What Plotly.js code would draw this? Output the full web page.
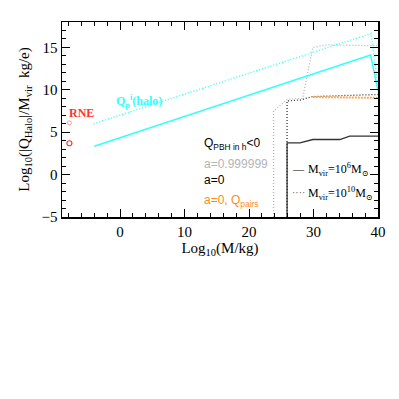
<!DOCTYPE html>
<html>
<head>
<meta charset="utf-8">
<script src="https://cdn.plot.ly/plotly-3.0.1.min.js"></script>
<style>
  html, body { margin: 0; padding: 0; background: white; }
  #chart { width: 399px; height: 399px; }
</style>
</head>
<body>
<div id="chart"></div>
<script>
// Q_p^i(halo), M_vir = 1e6 (solid) and 1e10 (dotted)
const cyanSolidX = [-4.0, 38.85, 40.0];
const cyanSolidY = [3.35, 14.1, 9.9];
const cyanDotX = [-4.1, 38.95, 40.0];
const cyanDotY = [6.0, 16.65, 10.2];

// a = 0.999999, M_vir = 1e10
const grayDotX = [23.8, 23.8, 26.0, 28.3, 29.9, 32.0, 40.0];
const grayDotY = [-5.0, 7.5, 8.9, 9.0, 15.0, 15.3, 15.2];

// a = 0, M_vir = 1e10
const blackDotX = [25.9, 25.9, 27.9, 29.9, 35.6, 40.0];
const blackDotY = [-5.0, 8.7, 8.8, 9.2, 9.35, 9.45];

// a = 0, Q_pairs, M_vir = 1e10
const orangeDotX = [29.9, 40.0];
const orangeDotY = [9.15, 9.05];

// a = 0, M_vir = 1e6
const blackSolidX = [25.9, 25.9, 27.9, 29.9, 34.1, 35.6, 40.0];
const blackSolidY = [-5.0, 3.74, 3.74, 4.14, 4.14, 4.53, 4.53];

// RNE points
const rneX = [-7.85];
const rneY = [3.7];
const rneDotY = [6.1];

const serif = 'Liberation Serif, DejaVu Serif, serif';
const sans = 'Liberation Sans, Arial, sans-serif';
const dots = '1px,2px';

function line(x, y, color, dash, width) {
  return {
    x: x, y: y, type: 'scatter', mode: 'lines',
    line: { color: color, dash: dash, width: width },
    showlegend: false, hoverinfo: 'skip'
  };
}

const traces = [
  line(cyanSolidX, cyanSolidY, '#33ffff', 'solid', 1.5),
  line(cyanDotX, cyanDotY, '#33ffff', dots, 1.5),
  line(grayDotX, grayDotY, '#b4b4b4', dots, 1.3),
  line(blackDotX, blackDotY, '#333333', dots, 1.3),
  line(orangeDotX, orangeDotY, '#ffaa55', '2px,1px', 2),
  line(blackSolidX, blackSolidY, '#333333', 'solid', 1.3),
  {
    x: rneX, y: rneY, type: 'scatter', mode: 'markers',
    marker: { symbol: 'circle-open', size: 5, color: '#ff3333', line: { width: 1.2 } },
    showlegend: false, hoverinfo: 'skip'
  },
  {
    x: rneX, y: rneDotY, type: 'scatter', mode: 'markers',
    marker: { symbol: 'circle-open', size: 4, color: '#ff9999', line: { width: 1 } },
    showlegend: false, hoverinfo: 'skip'
  }
];

function label(x, y, text, color, font, size, anchor) {
  return {
    x: x, y: y, xref: 'x', yref: 'y', text: text, showarrow: false,
    xanchor: anchor || 'left', yanchor: 'middle',
    font: { family: font, size: size, color: color }
  };
}

const annotations = [
  label(-8.2, 7.3, '<b>RNE</b>', '#ff3333', serif, 12),
  label(-1.0, 8.6, '<b>Q<sub>p</sub><sup>i</sup>(halo)</b>', '#33ffff', serif, 12),
  label(12.7, 3.6, 'Q<sub>PBH in h</sub><0', 'black', sans, 12),
  label(12.7, 1.3, 'a=0.999999', '#b4b4b4', sans, 12),
  label(12.7, -0.6, 'a=0', 'black', sans, 12),
  label(12.7, -3.15, 'a=0, Q<sub>pairs</sub>', '#ff8c1a', sans, 12),
  label(26.4, 0.7, '—', 'black', serif, 11),
  label(28.8, 0.6, 'M<sub>vir</sub>=10<sup>6</sup>M<sub>⊙</sub>', 'black', serif, 12),
  label(26.4, -2.1, '····', '#555555', serif, 10),
  label(28.8, -2.2, 'M<sub>vir</sub>=10<sup>10</sup>M<sub>⊙</sub>', 'black', serif, 12)
];

const axisCommon = {
  showline: true, linecolor: 'black', linewidth: 1.5, mirror: 'allticks',
  ticks: 'inside', ticklen: 8, tickwidth: 1, tickcolor: 'black',
  showgrid: false, zeroline: false,
  tickfont: { family: serif, size: 15, color: 'black' }
};

const layout = {
  width: 399, height: 399,
  margin: { l: 62, r: 21, t: 22, b: 182 },
  paper_bgcolor: 'white', plot_bgcolor: 'white',
  showlegend: false,
  xaxis: Object.assign({}, axisCommon, {
    range: [-9, 40], tick0: 0, dtick: 10,
    minor: { ticks: 'inside', dtick: 2, ticklen: 4, tickcolor: 'black' },
    title: { text: 'Log<sub>10</sub>(M/kg)', font: { family: serif, size: 15, color: 'black' }, standoff: 4 }
  }),
  yaxis: Object.assign({}, axisCommon, {
    range: [-5, 18], tick0: 0, dtick: 5,
    minor: { ticks: 'inside', dtick: 1, ticklen: 4, tickcolor: 'black' },
    title: { text: 'Log<sub>10</sub>(|Q<sub>Halo</sub>|/M<sub>vir</sub>  kg/e)', font: { family: serif, size: 15, color: 'black' }, standoff: 8 }
  }),
  annotations: annotations
};

Plotly.newPlot('chart', traces, layout, { displayModeBar: false, staticPlot: true });
</script>
</body>
</html>
